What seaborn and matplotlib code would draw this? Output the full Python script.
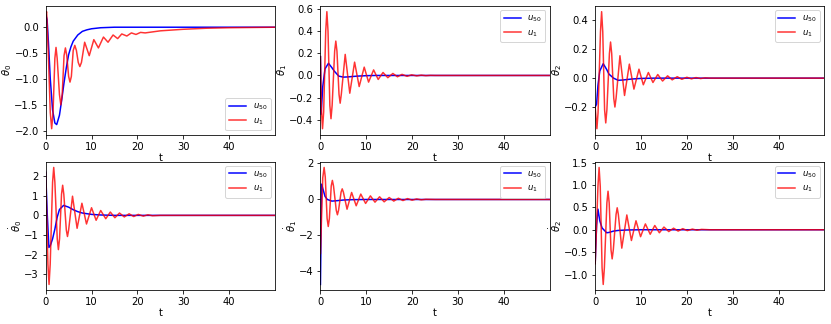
import pandas as pd
import matplotlib
matplotlib.use("Agg")
import matplotlib.pyplot as plt
import seaborn as sns

# values (peaks / troughs and a few points between)
# theta_0
th0_t_u50 = [0, 0.3, 0.6, 1.0, 1.5, 2.0, 2.4, 3.0, 3.5, 4.0, 4.5, 5.0, 5.5, 6.0, 7.0, 8.0, 9.0, 10, 12, 15, 50]
th0_y_u50 = [0.25, 0.15, -0.3, -1.0, -1.6, -1.85, -1.88, -1.7, -1.4, -1.07, -0.78, -0.53, -0.38, -0.27, -0.15,
             -0.08, -0.05, -0.03, -0.01, 0, 0]
th0_t_u1 = [0, 0.2, 0.6, 1.0, 1.3, 1.6, 2.0, 2.25, 2.5, 3.0, 3.3, 3.6, 4.0, 4.3, 4.6, 5.0, 5.3, 5.6, 6.0, 6.35,
            6.7, 7.1, 7.45, 7.8, 8.5, 9.5, 10.5, 11.5, 12.6, 13.6, 14.7, 15.7, 16.6,
            17.7, 18.7, 19.7, 20.7, 21.7, 25, 30, 35, 40, 50]
th0_y_u1 = [0.25, 0.3, -0.6, -1.65, -1.96, -1.65, -0.6, -0.39, -0.6, -1.3, -1.5, -1.3, -0.55, -0.40, -0.55, -0.95,
            -1.06, -0.95, -0.45, -0.35, -0.45, -0.68, -0.76, -0.68, -0.29, -0.55, -0.24, -0.40, -0.19,
            -0.29, -0.15, -0.22, -0.13, -0.17, -0.11, -0.14, -0.10, -0.11, -0.07, -0.04, -0.02, -0.01, 0]

# theta_1
th1_t_u50 = [0, 0.15, 0.5, 1.0, 1.75, 2.5, 3.0, 4.0, 5.0, 6.0, 8.0, 10, 12, 50]
th1_y_u50 = [0.17, -0.35, -0.1, 0.06, 0.11, 0.07, 0.04, -0.006, -0.015, -0.013, -0.006, -0.002, 0, 0]
th1_t_u1 = [0, 0.2, 0.45, 0.7, 1.15, 1.4, 1.65, 2.05, 2.3, 2.55, 3.1, 3.35, 3.6, 4.05, 4.3, 4.55, 5.4, 6.4, 7.45,
            8.45, 9.55, 10.5, 11.6, 12.6, 13.65, 14.7, 15.8, 16.8, 17.8, 18.9, 19.9, 21, 22, 23, 24, 25, 50]
th1_y_u1 = [0.17, -0.3, -0.48, -0.33, 0.4, 0.575, 0.4, -0.27, -0.39, -0.27, 0.22, 0.31, 0.22, -0.17, -0.25, -0.17,
            0.19, -0.16, 0.12, -0.10, 0.075, -0.06, 0.05, -0.036, 0.027, -0.02, 0.018, -0.012, 0.01, -0.008, 0.006,
            -0.004, 0.003, -0.002, 0.001, 0, 0]

# theta_2
th2_t_u50 = [0, 0.3, 0.6, 1.0, 1.75, 2.5, 3.0, 4.0, 5.0, 6.0, 8.0, 10, 13, 50]
th2_y_u50 = [-0.2, -0.18, -0.05, 0.05, 0.10, 0.06, 0.028, 0.0, -0.015, -0.013, -0.006, -0.002, 0, 0]
th2_t_u1 = [0, 0.37, 0.62, 1.15, 1.4, 1.65, 2.05, 2.3, 2.55, 3.1, 3.35, 3.6, 4.05, 4.3, 4.55, 5.4, 6.4, 7.45, 8.45,
            9.55, 10.5, 11.6, 12.6, 13.65, 14.7, 15.8, 16.8, 17.9, 18.9, 20, 21, 22, 23, 24, 25, 50]
th2_y_u1 = [-0.2, -0.35, -0.24, 0.32, 0.46, 0.32, -0.22, -0.31, -0.22, 0.17, 0.25, 0.17, -0.14, -0.20, -0.14, 0.155,
            -0.12, 0.097, -0.076, 0.062, -0.046, 0.039, -0.03, 0.025, -0.02, 0.016, -0.012, 0.01, -0.008, 0.006,
            -0.005, 0.004, -0.003, 0.002, 0, 0]

# theta_0 dot
dth0_t_u50 = [0, 0.35, 0.7, 1.0, 1.5, 2.0, 2.5, 3.0, 3.9, 5, 6, 7, 8, 10, 12, 15, 50]
dth0_y_u50 = [2.2, 0.0, -1.64, -1.55, -1.2, -0.7, -0.1, 0.3, 0.51, 0.42, 0.29, 0.19, 0.12, 0.05, 0.02, 0, 0]
dth0_t_u1 = [0, 0.48, 0.73, 0.98, 1.5, 1.75, 2.0, 2.52, 2.77, 3.02, 3.45, 3.7, 3.95, 4.5, 4.75, 5.0, 5.85, 6.85,
             7.9, 8.9, 10.0, 11.0, 12.0, 13.1, 14.1, 15.1, 16.1, 17.15, 18.2, 19.2, 20.2, 21.3, 22.3, 23.3, 25, 50]
dth0_y_u1 = [2.2, -2.5, -3.53, -2.5, 1.7, 2.45, 1.7, -1.2, -1.75, -1.2, 1.08, 1.54, 1.08, -0.75, -1.08, -0.75,
             0.98, -0.66, 0.62, -0.44, 0.39, -0.25, 0.25, -0.17, 0.17, -0.12, 0.12, -0.08, 0.08, -0.06, 0.05, -0.04,
             0.03, -0.02, 0, 0]

# theta_1 dot
dth1_t_u50 = [0, 0.25, 0.7, 1.0, 1.5, 2.5, 3.5, 5, 7, 10, 50]
dth1_y_u50 = [-4.72, 0.85, 0.44, 0.17, 0.0, -0.09, -0.07, -0.03, -0.01, 0, 0]
dth1_t_u1 = [0, 0.5, 0.8, 1.05, 1.45, 1.7, 1.95, 2.35, 2.6, 2.85, 3.45, 3.7, 3.95, 4.5, 4.75, 5.0, 5.8, 6.8, 7.8,
             8.8, 9.85, 10.9, 11.9, 12.9, 13.9, 15.0, 16.0, 17.0, 18.0, 19.0, 20.0, 21.0, 22.0, 23.0, 25, 50]
dth1_y_u1 = [-3.0, 1.2, 1.78, 1.25, -1.05, -1.5, -1.05, 0.75, 1.06, 0.75, -0.6, -0.85, -0.6, 0.41, 0.59, 0.41,
             -0.54, 0.39, -0.35, 0.30, -0.22, 0.20, -0.15, 0.15, -0.13, 0.11, -0.09, 0.07, -0.06, 0.05, -0.04, 0.03,
             -0.02, 0.01, 0, 0]

# theta_2 dot
dth2_t_u50 = [0, 0.3, 0.6, 1.0, 1.5, 2.5, 3.0, 4.0, 5.0, 7.0, 10, 50]
dth2_y_u50 = [-0.75, 0.1, 0.46, 0.2, 0.04, -0.067, -0.06, -0.03, -0.015, -0.005, 0, 0]
dth2_t_u1 = [0, 0.6, 0.85, 1.1, 1.5, 1.75, 2.0, 2.55, 2.8, 3.05, 3.45, 3.7, 3.95, 4.55, 4.8, 5.05, 5.8, 6.9, 7.9,
             8.9, 9.9, 10.95, 12.0, 13.0, 14.0, 15.0, 16.05, 17.1, 18.1, 19.1, 20.1, 21.2, 22.2, 23.2, 25, 50]
dth2_y_u1 = [-0.76, 0.97, 1.39, 0.97, -0.85, -1.22, -0.85, 0.6, 0.86, 0.6, -0.45, -0.65, -0.45, 0.34, 0.49, 0.34,
             -0.41, 0.33, -0.24, 0.20, -0.155, 0.13, -0.10, 0.095, -0.067, 0.06, -0.04, 0.035, -0.03, 0.025, -0.02,
             0.015, -0.01, 0.008, 0, 0]

dth0_yticks = [-3, -2, -1, 0, 1, 2]

panels = [
    (r"$\theta_0$", th0_t_u50, th0_y_u50, th0_t_u1, th0_y_u1, "lower right", None),
    (r"$\theta_1$", th1_t_u50, th1_y_u50, th1_t_u1, th1_y_u1, "upper right", None),
    (r"$\theta_2$", th2_t_u50, th2_y_u50, th2_t_u1, th2_y_u1, "upper right", None),
    (r"$\dot{\theta}_0$", dth0_t_u50, dth0_y_u50, dth0_t_u1, dth0_y_u1, "upper right", dth0_yticks),
    (r"$\dot{\theta}_1$", dth1_t_u50, dth1_y_u50, dth1_t_u1, dth1_y_u1, "upper right", None),
    (r"$\dot{\theta}_2$", dth2_t_u50, dth2_y_u50, dth2_t_u1, dth2_y_u1, "upper right", None),
]

fig, axs = plt.subplots(2, 3, figsize=(831 / 72, 324 / 72), dpi=72)
fig.subplots_adjust(left=0.055, right=0.992, bottom=0.104, top=0.982, wspace=0.199, hspace=0.21)

for ax, (ylab, t50, y50, t1, y1, loc, yt) in zip(axs.flat, panels):
    d50 = pd.DataFrame({"t": t50, "y": y50})
    d1 = pd.DataFrame({"t": t1, "y": y1})
    sns.lineplot(data=d50, x="t", y="y", ax=ax, color="b", label=r"$u_{50}$", estimator=None)
    sns.lineplot(data=d1, x="t", y="y", ax=ax, color="r", alpha=0.8, label=r"$u_1$", estimator=None)
    ax.set_xlim(0, 50)
    ax.set_xticks([0, 10, 20, 30, 40])
    if yt is not None:
        ax.set_yticks(yt)
    ax.set_xlabel("t", labelpad=1)
    ax.set_ylabel(ylab, labelpad=0)
    ax.legend(loc=loc, fontsize=8.5)

plt.savefig("out.png", dpi=72)
